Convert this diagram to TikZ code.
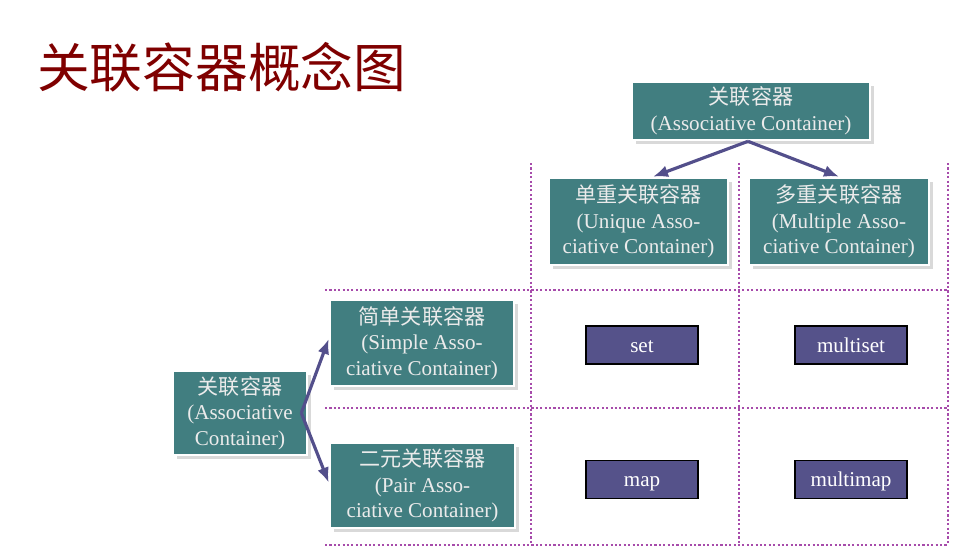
\documentclass[tikz,border=0pt]{standalone}
\usepackage{fontspec}
\setmainfont{Liberation Serif}
\newfontfamily\cjk{Noto Sans CJK SC}
\usetikzlibrary{shadows,arrows.meta}
\definecolor{teal}{HTML}{417E80}
\definecolor{boxviolet}{HTML}{55528A}
\definecolor{dotpurple}{HTML}{A74CAB}
\definecolor{titlered}{HTML}{7F0000}
\definecolor{arrowblue}{HTML}{534F8B}
\begin{document}
\begin{tikzpicture}[>={Latex[length=3mm,width=2.4mm]},
  kind/.style={fill=teal, draw=white, line width=1.5pt, text=black!8, align=center,
    font=\fontsize{12}{14.5}\selectfont, inner sep=0pt,
    drop shadow={shadow xshift=0.7mm, shadow yshift=-0.7mm, opacity=0.3}},
  impl/.style={fill=boxviolet, draw=black, line width=0.8pt, text=white,
    font=\fontsize{12}{14.5}\selectfont, minimum width=2.24cm, minimum height=0.76cm,
    text height=2ex, text depth=0.2ex},
  grid/.style={dotpurple, dash pattern=on 1.2pt off 1.3pt, line width=1.3pt},
  link/.style={->, arrowblue, line width=1.8pt}]
  \useasboundingbox (0,0) rectangle (19.54,-11.14);
  \node[titlered, anchor=west, font=\cjk\fontsize{30}{30}\selectfont] (title) at (0.62,-1.34) {关联容器概念图};
  % grid of the table
  \foreach \x in {10.62,14.78,18.96} \draw[grid] (\x,-3.26) -- (\x,-10.9);
  \foreach \y in {-5.8,-8.16,-10.9} \draw[grid] (6.5,\y) -- (18.96,\y);
  % categories
  \node[kind, minimum width=4.76cm, minimum height=1.16cm] (top) at (15.02,-2.22) {{\cjk 关联容器}\\(Associative Container)};
  \node[kind, minimum width=3.58cm, minimum height=1.74cm] (uniq) at (12.77,-4.43) {{\cjk 单重关联容器}\\(Unique Asso-\\ciative Container)};
  \node[kind, minimum width=3.6cm, minimum height=1.74cm] (multi) at (16.78,-4.43) {{\cjk 多重关联容器}\\(Multiple Asso-\\ciative Container)};
  \node[kind, minimum width=2.68cm, minimum height=1.68cm] (left) at (4.8,-8.26) {{\cjk 关联容器}\\(Associative\\Container)};
  \node[kind, minimum width=3.68cm, minimum height=1.72cm] (simple) at (8.44,-6.86) {{\cjk 简单关联容器}\\(Simple Asso-\\ciative Container)};
  \node[kind, minimum width=3.7cm, minimum height=1.7cm] (pair) at (8.45,-9.71) {{\cjk 二元关联容器}\\(Pair Asso-\\ciative Container)};
  % containers
  \node[impl] (set) at (12.84,-6.9) {set};
  \node[impl] (multiset) at (17.02,-6.9) {multiset};
  \node[impl] (map) at (12.84,-9.59) {map};
  \node[impl] (multimap) at (17.02,-9.59) {multimap};
  % arrows
  \draw[link] ([xshift=-0.06cm]top.south) -- ([xshift=0.29cm]uniq.north);
  \draw[link] ([xshift=-0.06cm]top.south) -- (multi.north);
  \draw[link] ([xshift=-0.14cm]left.east) -- ([yshift=0.08cm]simple.west);
  \draw[link] ([xshift=-0.14cm]left.east) -- ([yshift=0.06cm]pair.west);
\end{tikzpicture}
\end{document}
